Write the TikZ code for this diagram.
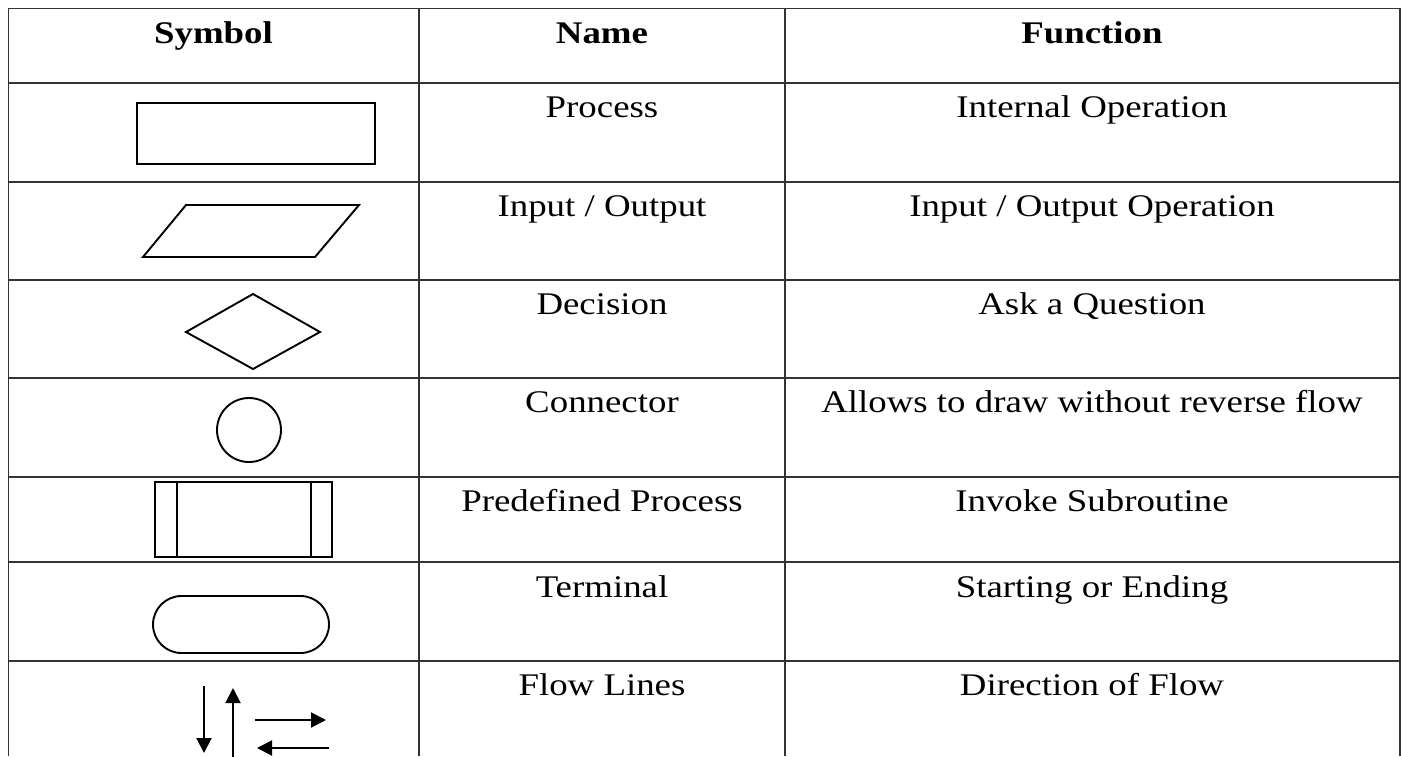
\documentclass[tikz,border=0pt]{standalone}
\usepackage{fontspec}
\setmainfont{Liberation Serif}[FakeStretch=1.17]
\usepackage{tikz}
\usetikzlibrary{arrows.meta, positioning}

\begin{document}
\begin{tikzpicture}[
    x=1pt, y=-1pt,
    rule/.style={line width=1.8pt, black!80},
    symbol/.style={line width=1.9pt},
    cell/.style={anchor=base, inner sep=0pt, font=\fontsize{31.5}{36}\selectfont},
    head/.style={cell, font=\fontsize{31.5}{36}\selectfont\bfseries},
    flow/.style={-{Triangle[length=15pt, width=15pt]}, line width=2pt},
]
\useasboundingbox (0,0) rectangle (1401,756);

% Table rules
\draw[rule] (8.5,756) -- (8.5,8.5) -- (1400,8.5) -- (1400,756);
\draw[rule] (419,8.5) -- (419,756);
\draw[rule] (785,8.5) -- (785,756);
\foreach \y in {83,182,280,378,477,562,661}
    \draw[rule] (8.5,\y) -- (1400,\y);

% Header
\node[head] (hsym) at (213.5,43) {Symbol};
\node[head] (hname) at (602,43) {Name};
\node[head] (hfun) at (1092,43) {Function};

% Names and functions
\node[cell] (nproc) at (602,117) {Process};
\node[cell] (fproc) at (1092,117) {Internal Operation};
\node[cell] (nio) at (602,216) {Input / Output};
\node[cell] (fio) at (1092,216) {Input / Output Operation};
\node[cell] (ndec) at (602,314) {Decision};
\node[cell] (fdec) at (1092,314) {Ask a Question};
\node[cell] (ncon) at (602,412) {Connector};
\node[cell] (fcon) at (1092,412) {Allows to draw without reverse flow};
\node[cell] (npre) at (602,511) {Predefined Process};
\node[cell] (fpre) at (1092,511) {Invoke Subroutine};
\node[cell] (nterm) at (602,597) {Terminal};
\node[cell] (fterm) at (1092,597) {Starting or Ending};
\node[cell] (nflow) at (602,695) {Flow Lines};
\node[cell] (fflow) at (1092,695) {Direction of Flow};

% Symbols
\draw[symbol] (137,103) rectangle (375,164);
\draw[symbol] (186,205) -- (359,205) -- (315,257) -- (143,257) -- cycle;
\draw[symbol] (253,294) -- (320,332) -- (253,369) -- (186,332) -- cycle;
\draw[symbol] (249,430) circle (32);
\draw[symbol] (155,482) rectangle (332,557);
\draw[symbol] (177,482) -- (177,557);
\draw[symbol] (311,482) -- (311,557);
\draw[symbol, rounded corners=28.5pt] (153,596) rectangle (329,653);

% Flow lines
\coordinate (dtop) at (204,686);
\coordinate (dbot) at (204,753);
\coordinate (ubot) at (233,760);
\coordinate (utop) at (233,688);
\coordinate (rleft) at (255,720);
\coordinate (rright) at (326,720);
\coordinate (lright) at (329,748);
\coordinate (lleft) at (257,748);
\draw[flow] (dtop) -- (dbot);
\draw[flow] (ubot) -- (utop);
\draw[flow] (rleft) -- (rright);
\draw[flow] (lright) -- (lleft);

\end{tikzpicture}
\end{document}
